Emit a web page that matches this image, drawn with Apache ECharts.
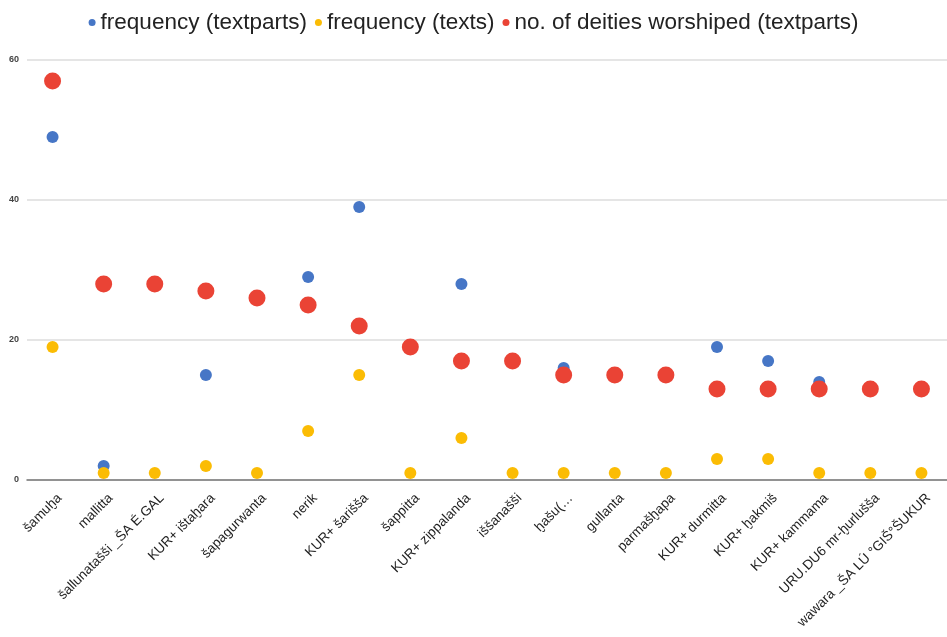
<!DOCTYPE html>
<html>
<head>
<meta charset="utf-8">
<script src="https://cdn.jsdelivr.net/npm/echarts@6/dist/echarts.min.js"></script>
<style>
  html, body { margin: 0; padding: 0; background: #fff; }
  #chart { width: 947px; height: 637px; }
</style>
</head>
<body>
<div id="chart"></div>
<script>
// Places (categories along the x axis)
const places = [
  'šamuḫa', 'mallitta', 'šallunatašši _ŠA É.GAL', 'KUR+ ištaḫara', 'šapagurwanta',
  'nerik', 'KUR+ šarišša', 'šappitta', 'KUR+ zippalanda', 'iššanašši',
  'ḫašu(…', 'gullanta', 'parmašḫapa', 'KUR+ durmitta', 'KUR+ ḫakmiš',
  'KUR+ kammama', 'URU.DU6 mr-ḫurlušša', 'wawara _ŠA LÚ °GIŠ°ŠUKUR'
];

// Series values
const freqTextparts = [49, 2, 28, 15, 26, 29, 39, 19, 28, 17, 16, 15, 15, 19, 17, 14, 13, 13];
const freqTexts     = [19, 1, 1, 2, 1, 7, 15, 1, 6, 1, 1, 1, 1, 3, 3, 1, 1, 1];
const deities       = [57, 28, 28, 27, 26, 25, 22, 19, 17, 17, 15, 15, 15, 13, 13, 13, 13, 13];

// Y axis ticks
const yTicks = [0, 20, 40, 60];

const chart = echarts.init(document.getElementById('chart'));
const font = 'Liberation Sans, Arial, sans-serif';

chart.setOption({
  animation: false,
  backgroundColor: '#ffffff',
  color: ['#4676c6', '#fbbc04', '#ea4335'],
  legend: {
    top: 6,
    left: 'center',
    icon: 'circle',
    itemWidth: 7,
    itemHeight: 7,
    itemGap: 8,
    textStyle: { fontFamily: font, fontSize: 22.5, color: '#222' },
    data: ['frequency (textparts)', 'frequency (texts)', 'no. of deities worshiped (textparts)']
  },
  grid: { left: 27, right: 0, top: 60, bottom: 157, containLabel: false, outerBoundsMode: 'none' },
  xAxis: {
    type: 'category',
    data: places,
    boundaryGap: true,
    axisLine: { lineStyle: { color: '#777', width: 1.5 } },
    axisTick: { show: false },
    axisLabel: {
      rotate: 45,
      interval: 0,
      margin: 9,
      verticalAlign: 'top',
      lineHeight: 20,
      fontFamily: font,
      fontSize: 13.5,
      color: '#222'
    }
  },
  yAxis: {
    type: 'value',
    min: yTicks[0],
    max: yTicks[yTicks.length - 1],
    interval: 20,
    axisLine: { show: false },
    axisTick: { show: false },
    splitLine: { lineStyle: { color: '#dddddd', width: 1.5 } },
    axisLabel: {
      fontFamily: font,
      fontSize: 9,
      fontWeight: 'bold',
      color: '#444',
      margin: 8
    }
  },
  series: [
    {
      name: 'frequency (textparts)',
      type: 'scatter',
      symbolSize: 12,
      itemStyle: { opacity: 1 },
      data: freqTextparts,
      z: 2
    },
    {
      name: 'frequency (texts)',
      type: 'scatter',
      symbolSize: 12,
      itemStyle: { opacity: 1 },
      data: freqTexts,
      z: 3
    },
    {
      name: 'no. of deities worshiped (textparts)',
      type: 'scatter',
      symbolSize: 17,
      itemStyle: { opacity: 1 },
      data: deities,
      z: 4
    }
  ]
});
</script>
</body>
</html>
